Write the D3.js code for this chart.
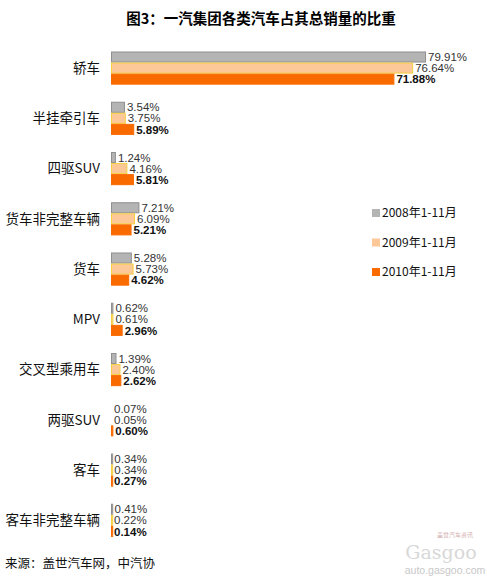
<!DOCTYPE html>
<html><head><meta charset="utf-8">
<script src="https://cdn.jsdelivr.net/npm/d3@7"></script>
<style>body{margin:0;background:#fff;}svg{display:block;}</style>
</head><body>
<svg id="c" width="487" height="580"></svg>
<script>
const categories = ["轿车","半挂牵引车","四驱SUV","货车非完整车辆","货车","MPV","交叉型乘用车","两驱SUV","客车","客车非完整车辆"];
const seriesNames = ["2008年1-11月","2009年1-11月","2010年1-11月"];
const v2008 = [79.91,3.54,1.24,7.21,5.28,0.62,1.39,0.07,0.34,0.41];
const v2009 = [76.64,3.75,4.16,6.09,5.73,0.61,2.40,0.05,0.34,0.22];
const v2010 = [71.88,5.89,5.81,5.21,4.62,2.96,2.62,0.60,0.27,0.14];
const title = "图3：一汽集团各类汽车占其总销量的比重";
const source = "来源：盖世汽车网，中汽协";

const values = [v2008, v2009, v2010];
const fills = ["#b4b4b4","#fcc898","#f96a00"];
const strokes = ["#8f8f8f","#f5d040","#f96a00"];

const svg = d3.select("#c");
const cjk = "'Noto Sans CJK SC','Noto Sans',sans-serif";
const lat = "'Liberation Sans',Arial,sans-serif";

svg.append("text").attr("x",261).attr("y",24).attr("text-anchor","middle")
  .attr("font-family",cjk).attr("font-weight","bold").attr("font-size",14.5).attr("fill","#000").text(title);

const x = d3.scaleLinear().domain([0,80]).range([111,426.4]);
const y = d3.scaleBand().domain(categories).range([34.4,554]).paddingInner(0.34).paddingOuter(0.34);
const ys = d3.scaleBand().domain(d3.range(3)).range([0,y.bandwidth()]);

const g = svg.append("g");
categories.forEach((cat,i)=>{
  const gg = g.append("g").attr("transform",`translate(0,${y(cat)})`);
  gg.append("text").attr("x",100).attr("y",y.bandwidth()/2).attr("dy","0.36em")
    .attr("text-anchor","end").attr("font-family",cjk).attr("font-size",13.5).attr("fill","#111").text(cat);
  values.forEach((arr,s)=>{
    const v = arr[i];
    const w = x(v)-x(0);
    gg.append("rect").attr("x",x(0)+0.5).attr("y",ys(s)+0.5).attr("width",Math.max(w-1,1.2)).attr("height",ys.bandwidth()-1)
      .attr("fill",fills[s]).attr("stroke",v<0.1?"none":strokes[s]).attr("stroke-width",1)
      .attr("opacity", v<0.1?0:1);
    gg.append("text").attr("x",Math.max(x(v),x(0)+1)+2).attr("y",ys(s)+ys.bandwidth()/2).attr("dy","0.36em")
      .attr("font-family",lat).attr("font-size",11.5).attr("font-weight",s===2?"bold":"normal")
      .attr("fill",s===2?"#111":"#333").text(v.toFixed(2)+"%");
  });
});

const leg = svg.append("g");
seriesNames.forEach((n,s)=>{
  const ly = 213 + s*29.5;
  leg.append("rect").attr("x",372).attr("y",ly-4).attr("width",8).attr("height",8).attr("fill",fills[s]);
  leg.append("text").attr("x",382).attr("y",ly).attr("dy","0.36em").attr("font-family",cjk).attr("font-size",12).attr("fill","#111").text(n);
});

svg.append("text").attr("x",5).attr("y",563).attr("dy","0.36em").attr("font-family",cjk).attr("font-size",12.5).attr("fill","#111").text(source);

// watermark
svg.append("text").attr("x",455).attr("y",537).attr("text-anchor","middle").attr("font-family",cjk).attr("font-size",6).attr("fill","#d4b0b0").text("盖世汽车资讯");
svg.append("text").attr("x",441).attr("y",559).attr("text-anchor","middle").attr("font-family","'DejaVu Serif',serif").attr("font-size",19).attr("fill","#d8d8d8").text("Gasgoo");
svg.append("text").attr("x",445).attr("y",574).attr("text-anchor","middle").attr("font-family",lat).attr("font-size",10.5).attr("fill","#c8c8c8").text("auto.gasgoo.com");
</script>
</body></html>
